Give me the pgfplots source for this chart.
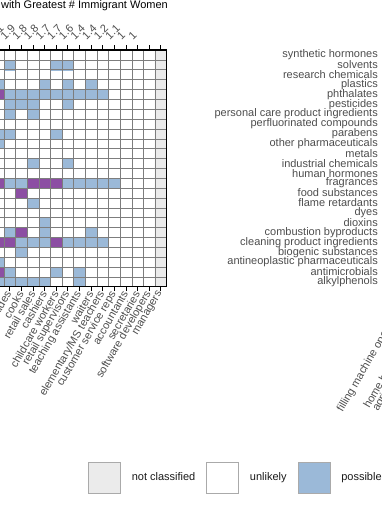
\documentclass[border=0pt]{standalone}
\usepackage{pgfplots}
\pgfplotsset{compat=1.18}
\usepackage{fontspec}
\setmainfont{Liberation Sans}
\definecolor{ncgrey}{RGB}{235,235,235}
\definecolor{possblue}{RGB}{155,185,216}
\definecolor{likpurple}{RGB}{140,78,163}
\definecolor{gridgrey}{RGB}{125,125,125}
\definecolor{txtgrey}{RGB}{77,77,77}
\definecolor{keygrey}{RGB}{170,170,170}
\newcommand{\fs}{\fontsize{11}{11}\selectfont}
\begin{document}
\begin{tikzpicture}
\path[use as bounding box] (0,0) rectangle (382pt,505pt);
\clip (0,0) rectangle (382pt,505pt);
% ---------- left panel: heat map ----------
\begin{axis}[
  at={(-7.7pt,218.3pt)}, anchor=south west,
  scale only axis, width=174.4pt, height=236.7pt,
  xmin=-1.5, xmax=13.5, ymin=-0.5, ymax=23.5,
  xtick={-1,...,13}, ytick={0,...,23}, yticklabels={},
  xticklabels={maids, nursing aides, cooks, retail sales, cashiers, childcare workers, retail supervisors, teaching assistants, waiters, elementary/MS teachers, customer service reps, accountants, secretaries, software developers, managers},
  xtick pos=bottom, ytick pos=left,
  tick align=outside, major tick length=4.5pt,
  tick style={black, line width=0.9pt},
  minor xtick={-0.5,0.5,...,13.5}, minor ytick={-0.5,0.5,...,23.5},
  minor tick length=0pt, xminorgrids, yminorgrids,
  minor grid style={gridgrey, line width=0.5pt},
  axis on top,
  axis line style={black, line width=1.2pt},
  colormap={cats}{rgb255=(235,235,235) rgb255=(255,255,255) rgb255=(155,185,216) rgb255=(140,78,163)},
  colormap access=direct,
  xticklabel style={rotate=60, anchor=east, font=\fs, text=txtgrey, inner sep=1pt},
  title={Occupations with Greatest \# Immigrant Women},
  title style={at={(axis description cs:1,1)}, anchor=base east, yshift=35.5pt, xshift=1.3pt, font=\fs, inner sep=0pt},
  legend columns=-1,
  legend image code/.code={\draw[#1, draw=keygrey, line width=0.6pt] (0pt,-15.5pt) rectangle (32pt,15.5pt);},
  legend style={at={(axis description cs:0.5487,-0.806)}, anchor=west, draw=none, fill=none, inner sep=0pt,
    font=\fs, text=black!90, nodes={inner sep=0pt},
    /tikz/every odd column/.append style={column sep=11pt},
    /tikz/every even column/.append style={column sep=11pt}},
]
\addplot[matrix plot*, point meta=explicit, mesh/cols=15, mesh/rows=24, forget plot] coordinates {
(-1,0)[2] (0,0)[2] (1,0)[2] (2,0)[2] (3,0)[2] (4,0)[1] (5,0)[1] (6,0)[2] (7,0)[1] (8,0)[1] (9,0)[1] (10,0)[1] (11,0)[1] (12,0)[1] (13,0)[0]
(-1,1)[3] (0,1)[2] (1,1)[1] (2,1)[1] (3,1)[1] (4,1)[2] (5,1)[1] (6,1)[2] (7,1)[1] (8,1)[1] (9,1)[1] (10,1)[1] (11,1)[1] (12,1)[1] (13,1)[0]
(-1,2)[2] (0,2)[1] (1,2)[1] (2,2)[1] (3,2)[1] (4,2)[1] (5,2)[1] (6,2)[1] (7,2)[1] (8,2)[1] (9,2)[1] (10,2)[1] (11,2)[1] (12,2)[1] (13,2)[0]
(-1,3)[1] (0,3)[1] (1,3)[2] (2,3)[1] (3,3)[1] (4,3)[1] (5,3)[1] (6,3)[1] (7,3)[1] (8,3)[1] (9,3)[1] (10,3)[1] (11,3)[1] (12,3)[1] (13,3)[0]
(-1,4)[3] (0,4)[3] (1,4)[2] (2,4)[2] (3,4)[2] (4,4)[3] (5,4)[2] (6,4)[2] (7,4)[2] (8,4)[2] (9,4)[1] (10,4)[1] (11,4)[1] (12,4)[1] (13,4)[0]
(-1,5)[1] (0,5)[2] (1,5)[3] (2,5)[1] (3,5)[2] (4,5)[1] (5,5)[1] (6,5)[1] (7,5)[2] (8,5)[1] (9,5)[1] (10,5)[1] (11,5)[1] (12,5)[1] (13,5)[0]
(-1,6)[1] (0,6)[1] (1,6)[1] (2,6)[1] (3,6)[2] (4,6)[1] (5,6)[1] (6,6)[1] (7,6)[1] (8,6)[1] (9,6)[1] (10,6)[1] (11,6)[1] (12,6)[1] (13,6)[0]
(-1,7)[1] (0,7)[1] (1,7)[1] (2,7)[1] (3,7)[1] (4,7)[1] (5,7)[1] (6,7)[1] (7,7)[1] (8,7)[1] (9,7)[1] (10,7)[1] (11,7)[1] (12,7)[1] (13,7)[0]
(-1,8)[1] (0,8)[1] (1,8)[1] (2,8)[2] (3,8)[1] (4,8)[1] (5,8)[1] (6,8)[1] (7,8)[1] (8,8)[1] (9,8)[1] (10,8)[1] (11,8)[1] (12,8)[1] (13,8)[0]
(-1,9)[1] (0,9)[1] (1,9)[3] (2,9)[1] (3,9)[1] (4,9)[1] (5,9)[1] (6,9)[1] (7,9)[1] (8,9)[1] (9,9)[1] (10,9)[1] (11,9)[1] (12,9)[1] (13,9)[0]
(-1,10)[3] (0,10)[2] (1,10)[2] (2,10)[3] (3,10)[3] (4,10)[3] (5,10)[2] (6,10)[2] (7,10)[2] (8,10)[2] (9,10)[2] (10,10)[1] (11,10)[1] (12,10)[1] (13,10)[0]
(-1,11)[1] (0,11)[1] (1,11)[1] (2,11)[1] (3,11)[1] (4,11)[1] (5,11)[1] (6,11)[1] (7,11)[1] (8,11)[1] (9,11)[1] (10,11)[1] (11,11)[1] (12,11)[1] (13,11)[0]
(-1,12)[1] (0,12)[1] (1,12)[1] (2,12)[2] (3,12)[1] (4,12)[1] (5,12)[2] (6,12)[1] (7,12)[1] (8,12)[1] (9,12)[1] (10,12)[1] (11,12)[1] (12,12)[1] (13,12)[0]
(-1,13)[1] (0,13)[1] (1,13)[1] (2,13)[1] (3,13)[1] (4,13)[1] (5,13)[1] (6,13)[1] (7,13)[1] (8,13)[1] (9,13)[1] (10,13)[1] (11,13)[1] (12,13)[1] (13,13)[0]
(-1,14)[2] (0,14)[1] (1,14)[1] (2,14)[1] (3,14)[1] (4,14)[1] (5,14)[1] (6,14)[1] (7,14)[1] (8,14)[1] (9,14)[1] (10,14)[1] (11,14)[1] (12,14)[1] (13,14)[0]
(-1,15)[2] (0,15)[2] (1,15)[1] (2,15)[1] (3,15)[1] (4,15)[2] (5,15)[1] (6,15)[1] (7,15)[1] (8,15)[1] (9,15)[1] (10,15)[1] (11,15)[1] (12,15)[1] (13,15)[0]
(-1,16)[1] (0,16)[1] (1,16)[1] (2,16)[1] (3,16)[1] (4,16)[1] (5,16)[1] (6,16)[1] (7,16)[1] (8,16)[1] (9,16)[1] (10,16)[1] (11,16)[1] (12,16)[1] (13,16)[0]
(-1,17)[1] (0,17)[2] (1,17)[1] (2,17)[2] (3,17)[1] (4,17)[1] (5,17)[1] (6,17)[1] (7,17)[1] (8,17)[1] (9,17)[1] (10,17)[1] (11,17)[1] (12,17)[1] (13,17)[0]
(-1,18)[1] (0,18)[2] (1,18)[2] (2,18)[2] (3,18)[1] (4,18)[1] (5,18)[2] (6,18)[1] (7,18)[1] (8,18)[1] (9,18)[1] (10,18)[1] (11,18)[1] (12,18)[1] (13,18)[0]
(-1,19)[3] (0,19)[2] (1,19)[2] (2,19)[2] (3,19)[2] (4,19)[2] (5,19)[2] (6,19)[2] (7,19)[2] (8,19)[2] (9,19)[1] (10,19)[1] (11,19)[1] (12,19)[1] (13,19)[0]
(-1,20)[2] (0,20)[1] (1,20)[1] (2,20)[1] (3,20)[2] (4,20)[1] (5,20)[2] (6,20)[1] (7,20)[2] (8,20)[1] (9,20)[1] (10,20)[1] (11,20)[1] (12,20)[1] (13,20)[0]
(-1,21)[1] (0,21)[1] (1,21)[1] (2,21)[1] (3,21)[1] (4,21)[1] (5,21)[1] (6,21)[1] (7,21)[1] (8,21)[1] (9,21)[1] (10,21)[1] (11,21)[1] (12,21)[1] (13,21)[0]
(-1,22)[1] (0,22)[2] (1,22)[1] (2,22)[1] (3,22)[1] (4,22)[2] (5,22)[2] (6,22)[1] (7,22)[1] (8,22)[1] (9,22)[1] (10,22)[1] (11,22)[1] (12,22)[1] (13,22)[0]
(-1,23)[1] (0,23)[1] (1,23)[1] (2,23)[1] (3,23)[1] (4,23)[1] (5,23)[1] (6,23)[1] (7,23)[1] (8,23)[1] (9,23)[1] (10,23)[1] (11,23)[1] (12,23)[1] (13,23)[0]
};
\addlegendimage{fill=ncgrey}\addlegendentry{not classified}
\addlegendimage{fill=white}\addlegendentry{unlikely}
\addlegendimage{fill=possblue}\addlegendentry{possible}
\addlegendimage{fill=likpurple}\addlegendentry{likely}
\end{axis}
% ---------- top axis: numbers ----------
\begin{axis}[
  at={(-7.7pt,218.3pt)}, anchor=south west,
  scale only axis, width=174.4pt, height=236.7pt,
  xmin=-1.5, xmax=13.5, ymin=-0.5, ymax=23.5,
  axis x line*=top, axis y line=none,
  xtick={-1,...,13},
  xticklabels={2.1,1.9,1.8,1.8,1.7,1.7,1.6,1.4,1.4,1.2,1.1,1,1,,},
  tick align=outside, major tick length=4.5pt,
  tick style={black, line width=0.9pt},
  axis line style={black, line width=1.2pt},
  xticklabel style={xshift=-4.5pt, yshift=5pt, rotate=45, anchor=south west, font=\fs, text=txtgrey, inner sep=0pt},
]
\end{axis}
% ---------- right panel (cut off) ----------
\begin{axis}[
  at={(393pt,218.3pt)}, anchor=south west,
  scale only axis, width=117pt, height=236.7pt,
  xmin=-0.5, xmax=9.5, ymin=-0.5, ymax=23.5,
  xtick={0,1,2,3}, xticklabels={filling machine operators, , home health care aides, agricultural field workers},
  ytick={0,...,23},
  yticklabels={alkylphenols, antimicrobials, antineoplastic pharmaceuticals, biogenic substances, cleaning product ingredients, combustion byproducts, dioxins, dyes, flame retardants, food substances, fragrances, human hormones, industrial chemicals, metals, other pharmaceuticals, parabens, perfluorinated compounds, personal care product ingredients, pesticides, phthalates, plastics, research chemicals, solvents, synthetic hormones},
  major tick length=0pt,
  axis line style={black, line width=1.2pt},
  yticklabel style={font=\fs, text=txtgrey, inner sep=0pt, anchor=east, xshift=-15pt},
  xticklabel style={xshift=1.6pt, yshift=-20pt, rotate=60, anchor=east, font=\fs, text=txtgrey, inner sep=1pt},
]
\end{axis}
\end{tikzpicture}
\end{document}
